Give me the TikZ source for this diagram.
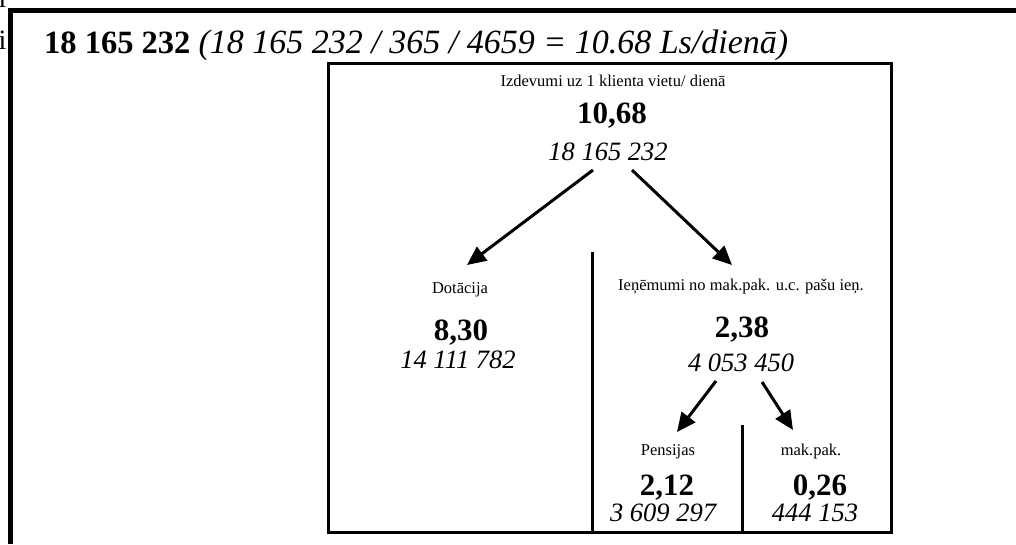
\documentclass[tikz,border=0pt]{standalone}
\usepackage{fontspec}
\setmainfont{Liberation Serif}
\usetikzlibrary{arrows.meta}
\begin{document}
\begin{tikzpicture}[x=1pt,y=-1pt,
  frameline/.style={line width=5.5pt},
  boxline/.style={line width=3pt},
  arr/.style={line width=3pt,-{Triangle[length=19pt,width=17pt]}},
  lbl/.style={inner sep=0pt,anchor=base,font=\fontsize{16.5}{18}\selectfont},
  big/.style={inner sep=0pt,anchor=base,font=\fontsize{31}{33}\selectfont\bfseries},
  num/.style={inner sep=0pt,anchor=base,font=\fontsize{26.5}{28}\selectfont\itshape},
  edge/.style={inner sep=0pt,anchor=base,font=\fontsize{28}{30}\selectfont}]
\useasboundingbox (0,0) rectangle (1016,544);
% clipped letters at the left edge
\node[edge] (e1) at (2.5,7) {l};
\node[edge] (e2) at (2.5,49) {i};
% outer frame
\draw[frameline] (10.5,544) -- (10.5,10.5) -- (1016,10.5);
% title
\node[inner sep=0pt,anchor=base west] (title) at (44,53)
  {\fontsize{32.5}{34}\selectfont\textbf{18 165 232} \fontsize{34}{36}\selectfont\textit{(18 165 232 / 365 / 4659 = 10.68 Ls/dienā)}};
% inner box
\draw[boxline] (328.5,63.5) rectangle (891.5,532.5);
\draw[boxline] (592,252) -- (592,532.5);
\draw[boxline] (742,425) -- (742,532.5);
% top block
\node[lbl] (t0) at (613,86) {Izdevumi uz 1 klienta vietu/ dienā};
\node[big] (b0) at (612,123) {10,68};
\node[num] (n0) at (608,160) {18 165 232};
% left block
\node[lbl] (t1) at (460,293) {Dotācija};
\node[big] (b1) at (461,340) {8,30};
\node[num] (n1) at (458,368) {14 111 782};
% right block
\node[lbl] (t2) at (741,290) {Ieņēmumi no mak.pak. u.c. pašu ieņ.};
\node[big] (b2) at (742,337) {2,38};
\node[num] (n2) at (741,371) {4 053 450};
% sub blocks
\node[lbl] (t3) at (668,455) {Pensijas};
\node[big] (b3) at (667,495) {2,12};
\node[num] (n3) at (663,521) {3 609 297};
\node[lbl] (t4) at (811,455) {mak.pak.};
\node[big] (b4) at (820,495) {0,26};
\node[num] (n4) at (815,521) {444 153};
% arrow ends
\coordinate (s1) at (593,170);
\coordinate (e1t) at (467,265);
\coordinate (s2) at (632,170);
\coordinate (e2t) at (732,265);
\coordinate (s3) at (716,381);
\coordinate (e3t) at (677,432);
\coordinate (s4) at (762,382);
\coordinate (e4t) at (793,430);
\draw[arr] (s1) -- (e1t);
\draw[arr] (s2) -- (e2t);
\draw[arr] (s3) -- (e3t);
\draw[arr] (s4) -- (e4t);
\end{tikzpicture}
\end{document}
